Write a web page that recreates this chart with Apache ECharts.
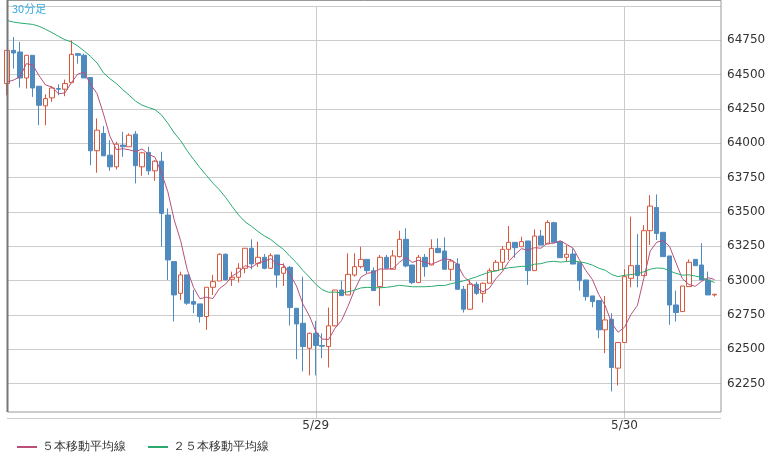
<!DOCTYPE html>
<html><head><meta charset="utf-8">
<script src="https://cdn.jsdelivr.net/npm/echarts@6/dist/echarts.min.js"></script>
<style>html,body{margin:0;padding:0;background:#fff}#c{width:784px;height:462px}</style>
</head><body><div id="c"></div>
<script>
const opens=[64435,64677,64665,64476,64641,64416,64273,64331,64399,64394,64442,64653,64641,64479,63946,64072,63914,63829,63987,63975,64067,63829,63934,63800,63870,63478,63139,62908,63042,62848,62831,62739,62952,62998,63192,63010,63025,63090,63236,63126,63170,63090,63187,63054,63097,62799,62690,62508,62617,62528,62520,62671,62932,62896,63041,63102,63155,63073,62957,63170,63083,63175,63301,63114,62986,63170,63114,63235,63216,63083,63121,62937,62792,62974,62908,62981,63073,63134,63228,63279,63247,63289,63073,63325,63267,63422,63284,63170,63194,63131,63005,62889,62855,62642,62719,62363,62550,63017,63112,63037,63364,63533,63352,63180,62823,62775,62957,63155,63114,63005,62896];
const closes=[64677,64658,64476,64641,64403,64277,64326,64403,64394,64435,64648,64641,64476,63946,64096,63909,63829,63994,63975,64059,63837,63931,63800,63870,63490,63151,62896,63042,62836,62829,62739,62952,62993,63192,63005,63025,63090,63236,63122,63170,63090,63182,63041,63097,62804,62685,62520,62617,62528,62523,62671,62932,62891,63046,63102,63155,63073,62928,63170,63090,63180,63301,63107,62986,63170,63102,63235,63204,63083,63143,62937,62792,62974,62908,62981,63073,63134,63228,63279,63240,63284,63073,63325,63259,63424,63279,63167,63192,63121,63000,62884,62848,62642,62714,62368,62550,63029,63109,63037,63364,63543,63344,63175,62823,62768,62961,63134,63109,63005,62896,62901];
const lows=[64350,64544,64406,64399,64338,64132,64132,64302,64350,64343,64442,64580,64476,63841,63786,63909,63800,63810,63902,63975,63708,63764,63769,63727,63248,63005,62703,62860,62824,62763,62695,62642,62896,62998,63005,62962,62986,63054,63083,63100,63083,63090,62949,62961,62673,62428,62339,62310,62310,62436,62368,62666,62891,62896,63029,63090,63054,62928,62816,63090,63083,63170,63097,62974,62986,63029,63114,63204,63083,63000,62937,62768,62792,62896,62840,62981,63073,63078,63151,63167,63247,62969,63073,63259,63267,63279,63167,63138,63121,62928,62855,62806,62581,62472,62193,62237,62550,62952,62952,63037,63259,63296,63175,62678,62702,62775,62957,63109,63005,62896,62884];
const highs=[64677,64774,64738,64641,64641,64416,64357,64416,64430,64464,64750,64653,64653,64479,64181,64125,64023,64011,64084,64072,64089,63938,63975,63878,63938,63526,63139,63066,63042,62933,62831,62952,63042,63199,63199,63066,63127,63236,63301,63284,63194,63199,63187,63126,63107,62799,63029,62622,62707,62617,62804,62932,63000,63199,63199,63247,63155,63097,63187,63187,63223,63364,63381,63114,63187,63194,63301,63308,63315,63155,63163,62961,63005,62993,62986,63090,63151,63252,63398,63279,63320,63289,63373,63369,63441,63429,63284,63259,63235,63131,63005,62889,62855,62889,62763,62550,63083,63466,63339,63405,63623,63628,63352,63180,62928,62961,63155,63155,63272,63066,62901];
const ma5Head=[64447,64460,64484,64580];
const ma25Head=[64895,64883,64876,64871,64866,64852,64830,64806,64779,64755,64738,64709,64672,64633,64585,64513,64471,64435,64391,64350,64307,64278,64261,64246];
const dateLabels={48:'5/29',96:'5/30'};

const n=closes.length;
const cats=[];for(let i=0;i<=n;i++)cats.push(dateLabels[i]||String(i));
const candles=closes.map((c,i)=>[opens[i],c,lows[i],highs[i]]);
function ma(k,head){return closes.map((c,i)=>{if(i<head.length)return head[i];let s=0;for(let j=i-k+1;j<=i;j++)s+=closes[j];return +(s/k).toFixed(1);});}
const ma5=ma(5,ma5Head), ma25=ma(25,ma25Head);
const isDate=i=>dateLabels[i]!==undefined;

const chart=echarts.init(document.getElementById('c'));
chart.setOption({
  animation:false,
  textStyle:{fontFamily:'DejaVu Sans'},
  grid:{left:7,right:63,top:6,bottom:44},
  xAxis:{type:'category',data:cats,boundaryGap:false,offset:-6,
    axisLine:{show:false},axisTick:{show:false},
    axisLabel:{interval:(i)=>isDate(i),formatter:v=>/\//.test(v)?v:'',color:'#333',fontSize:12,margin:8},
    splitLine:{show:true,interval:(i)=>isDate(i),lineStyle:{color:'#ccc'}}},
  yAxis:{type:'value',position:'right',min:62000,max:65000,interval:250,scale:true,
    axisLine:{show:false},axisTick:{show:false},
    axisLabel:{color:'#333',fontSize:12,margin:6,showMinLabel:false,showMaxLabel:false,formatter:v=>String(v)},
    splitLine:{lineStyle:{color:'#ccc'}}},
  legend:{left:12,bottom:4,itemWidth:20,itemHeight:2,itemGap:22,icon:'rect',
    textStyle:{color:'#333',fontSize:12},data:['５本移動平均線','２５本移動平均線']},
  graphic:[
    {type:'rect',shape:{x:7.5,y:0.5,width:713.5,height:411.5},style:{fill:'none',stroke:'#999',lineWidth:1},silent:true,z:100},
    {type:'line',shape:{x1:7.5,y1:0,x2:7.5,y2:412},style:{stroke:'#777',lineWidth:2},silent:true,z:100},
    {type:'text',left:12,top:3,style:{text:'30分足',fill:'#33aadd',fontSize:11,fontFamily:'Noto Sans CJK JP'},z:100}
  ],
  series:[
    {type:'candlestick',data:candles,barWidth:5,
      itemStyle:{color:'#ffffff',color0:'#4f8bbf',borderColor:'#d9573b',borderColor0:'#4f8bbf',borderWidth:1}},
    {name:'５本移動平均線',type:'line',data:ma5,symbol:'none',lineStyle:{color:'#b8507a',width:1},itemStyle:{color:'#b8507a'}},
    {name:'２５本移動平均線',type:'line',data:ma25,symbol:'none',lineStyle:{color:'#2aaa70',width:1},itemStyle:{color:'#2aaa70'}}
  ]
});
</script></body></html>
